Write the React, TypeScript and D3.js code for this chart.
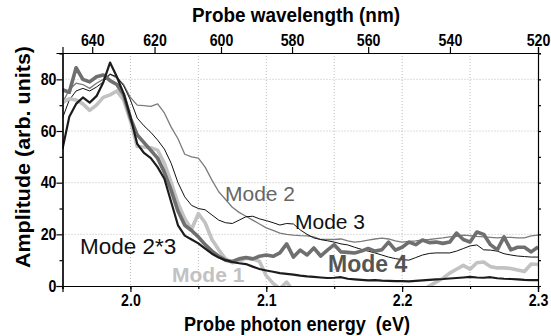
import React, { useEffect, useRef } from "react";
import * as d3 from "d3";

// energy grid (eV), step 0.005
const energy = d3.range(71).map((i) => +(1.95 + i * 0.005).toFixed(3));

const mode1 = [
  71, 72.5, 72, 70.5, 68, 70, 73, 74, 75.5, 72, 64, 54, 53.8, 53.5, 52.6, 47.5, 40, 32, 26, 22,
  28, 24.5, 18, 14, 10.5, 9, 9.5, 10.8, 10.5, 9.5, 4, 1, -1, 1.5, -2, -4, -6, -7, -8, -7,
  -8, -9, -8, -9, -8, -7, -8, -7, -6, -6, -5, -4, -3, -1.5, 0, 1.5, 3, 5, 6.5, 8,
  6.5, 9, 9.3, 7.5, 7, 7, 6.8, 6.2, 5.6, 8.5, 8.3,
];
const mode2 = [
  71, 76, 78.5, 78, 76.5, 78.5, 80, 82, 80.5, 78, 73, 70, 69.8, 69.5, 70.5, 67, 61.5, 57, 51, 50,
  49.5, 46, 41, 36.5, 33.5, 30.5, 28.5, 27, 25.5, 24, 22.5, 21.5, 20.5, 20, 19.7, 19.5, 19.4, 19, 18, 18,
  18, 18.2, 17.5, 17, 17.3, 17.8, 18.2, 18.5, 18.2, 17.5, 17, 17.3, 17.5, 17.8, 18, 18.3, 18.6, 19, 19.2, 19.7,
  19.5, 19.2, 19, 18.8, 18.6, 18.8, 18.8, 18.6, 18.6, 19.4, 19.7,
];
const mode3 = [
  65, 72, 75.5, 76.5, 75.5, 77, 79, 82, 81, 77.5, 72, 65, 62, 59.5, 56.5, 53, 47.5, 40, 34.5, 31.2,
  30, 29.5, 27.5, 25.5, 24.5, 24.2, 25.5, 26.8, 27, 26, 25.3, 24.5, 23.6, 24.2, 24, 21.7, 20, 18.6, 18, 17.5,
  17, 16.3, 15.9, 15, 14.2, 13.5, 12.8, 12, 11.2, 10.6, 10.2, 10, 11, 12, 12.6, 12.8, 12.8, 12.8, 13.5, 14.5,
  15.5, 15.9, 14, 13.9, 13.5, 12.5, 12, 11.6, 11.4, 11.2, 11.2,
];
const mode4 = [
  76, 75, 84.5, 80, 79, 81, 81.7, 79.5, 78, 74, 65, 58.5, 55.5, 52.5, 49.5, 44, 37, 29, 23.5, 21.5,
  19, 16, 13.5, 11.5, 10, 9.5, 10.5, 11, 10.5, 11.5, 12, 11.5, 12.8, 16.3, 11.2, 13.9, 12, 14.7, 11.6, 13.9,
  16, 13.2, 13, 12.8, 13.5, 14.5, 13.5, 14, 17, 13.9, 15, 17, 16, 17.8, 16.8, 17, 16.5, 17, 20.5, 18,
  17, 20.9, 20, 16, 14, 19, 14, 15, 15, 13.2, 15.1,
];
const mode23 = [
  53, 65.5, 70.5, 73, 71, 73.5, 78.8, 86.5, 81, 74.5, 65.5, 55, 51.5, 49.5, 46, 41.5, 32.5, 23.5, 19.5, 18,
  16.5, 14.5, 12.5, 11, 10, 9.3, 8.8, 8.5, 7.5, 6.6, 6, 5.5, 5, 4.7, 4.4, 4, 3.7, 3.5, 3.3, 3.1,
  3.2, 3.4, 2.8, 2.6, 2.4, 2.2, 2.3, 2.1, 2, 1.9, 1.9, 1.8, 2, 2.2, 2.4, 2.6, 2.7, 2.9, 3.1, 3.3,
  3.5, 3.3, 3.2, 3.4, 3, 2.8, 2.7, 2.6, 2.4, 2.3, 2.3,
];

const wavelengthTicks = [640, 620, 600, 580, 560, 540, 520];
const energyTicks = [2.0, 2.1, 2.2, 2.3];
const amplitudeTicks = [0, 20, 40, 60, 80];

const series = [
  { name: "Mode 2", values: mode2, color: "#7b7b7b", width: 1.3 },
  { name: "Mode 3", values: mode3, color: "#111111", width: 1 },
  { name: "Mode 1", values: mode1, color: "#c2c2c2", width: 3.6 },
  { name: "Mode 4", values: mode4, color: "#6f6f6f", width: 3.6 },
  { name: "Mode 2*3", values: mode23, color: "#1c1c1c", width: 2.2 },
];

const labels = [
  { text: "Mode 2", x: 225, y: 201, size: 21, weight: "normal", color: "#666666" },
  { text: "Mode 3", x: 295, y: 229, size: 21, weight: "normal", color: "#111111" },
  { text: "Mode 2*3", x: 80, y: 254, size: 22.5, weight: "normal", color: "#111111" },
  { text: "Mode 1", x: 172, y: 282, size: 21, weight: "bold", color: "#c2c2c2" },
  { text: "Mode 4", x: 328, y: 272, size: 23, weight: "bold", color: "#555555" },
];

const W = 551;
const H = 336;
const M = { top: 53, right: 13, bottom: 50, left: 62.5 };
const FONT = "'Liberation Sans', Arial, sans-serif";

export default function App() {
  const ref = useRef<SVGSVGElement>(null);

  useEffect(() => {
    if (!ref.current) return;
    const svg = d3.select(ref.current);
    svg.selectAll("*").remove();

    const x = d3.scaleLinear().domain([1.95, 2.3]).range([M.left, W - M.right]);
    const y = d3.scaleLinear().domain([0, 90.2]).range([H - M.bottom, M.top]);
    const xTop = d3
      .scaleLinear()
      .domain([1 / 650, 1 / 520])
      .range([M.left, W - M.right]);

    svg
      .append("defs")
      .append("clipPath")
      .attr("id", "plot-clip")
      .append("rect")
      .attr("x", M.left)
      .attr("y", M.top)
      .attr("width", W - M.left - M.right)
      .attr("height", H - M.top - M.bottom);

    // grid
    const grid = svg.append("g").attr("stroke", "#bdbdbd").attr("stroke-dasharray", "1,2");
    grid
      .selectAll("line.v")
      .data(d3.range(2.0, 2.26, 0.05))
      .enter()
      .append("line")
      .attr("x1", (d) => x(d))
      .attr("x2", (d) => x(d))
      .attr("y1", M.top)
      .attr("y2", H - M.bottom);
    grid
      .selectAll("line.h")
      .data([20, 40, 60, 80])
      .enter()
      .append("line")
      .attr("x1", M.left)
      .attr("x2", W - M.right)
      .attr("y1", (d) => y(d))
      .attr("y2", (d) => y(d));

    // lines
    const line = d3
      .line<number>()
      .x((d, i) => x(energy[i]))
      .y((d) => y(d));

    const lines = svg.append("g").attr("clip-path", "url(#plot-clip)");
    series.forEach((s) => {
      lines
        .append("path")
        .attr("d", line(s.values))
        .attr("fill", "none")
        .attr("stroke", s.color)
        .attr("stroke-width", s.width)
        .attr("stroke-linejoin", "round");
    });

    // axes
    const styleAxis = (g) => {
      g.select(".domain").attr("stroke", "#000").attr("stroke-width", 1.2);
      g.selectAll(".tick line").attr("stroke", "#000").attr("stroke-width", 1.2);
      g.selectAll(".tick text")
        .attr("font-family", FONT)
        .attr("font-weight", "bold")
        .attr("font-size", 16.5)
        .attr("fill", "#000")
        .attr("transform", "scale(0.86,1)");
    };

    svg
      .append("g")
      .attr("transform", `translate(0,${H - M.bottom})`)
      .call(d3.axisBottom(x).tickValues(d3.range(1.95, 2.31, 0.05)).tickSize(3).tickFormat(() => ""))
      .call(styleAxis);
    svg
      .append("g")
      .attr("transform", `translate(0,${H - M.bottom})`)
      .call(
        d3
          .axisBottom(x)
          .tickValues(energyTicks)
          .tickSize(6)
          .tickPadding(2)
          .tickFormat(d3.format(".1f"))
      )
      .call(styleAxis);

    svg
      .append("g")
      .attr("transform", `translate(0,${M.top})`)
      .call(
        d3
          .axisTop(xTop)
          .tickValues(wavelengthTicks.map((w) => 1 / w))
          .tickSize(6)
          .tickPadding(1)
          .tickFormat((d) => String(Math.round(1 / d)))
      )
      .call(styleAxis);

    svg
      .append("g")
      .attr("transform", `translate(${M.left},0)`)
      .call(d3.axisLeft(y).tickValues([10, 30, 50, 70, 90]).tickSize(3).tickFormat(() => ""))
      .call(styleAxis);
    svg
      .append("g")
      .attr("transform", `translate(${M.left},0)`)
      .call(d3.axisLeft(y).tickValues(amplitudeTicks).tickSize(6).tickPadding(1))
      .call(styleAxis);

    svg
      .append("g")
      .attr("transform", `translate(${W - M.right},0)`)
      .call(d3.axisLeft(y).tickValues([10, 20, 30, 40, 50, 60, 70, 80, 90]).tickSize(-3).tickFormat(() => ""))
      .call(styleAxis);

    // titles
    const title = (text, tx, ty, len, rot = 0) =>
      svg
        .append("text")
        .attr("transform", `translate(${tx},${ty}) rotate(${rot})`)
        .attr("text-anchor", "middle")
        .attr("font-family", FONT)
        .attr("font-weight", "bold")
        .attr("font-size", 20.5)
        .attr("textLength", len)
        .attr("lengthAdjust", "spacingAndGlyphs")
        .style("white-space", "pre")
        .text(text);

    title("Probe wavelength (nm)", 296, 22, 208);
    title("Probe photon energy  (eV)", 297, 331, 226);
    title("Amplitude (arb. units)", 30, 157, 222, -90);

    // series labels
    svg
      .append("g")
      .selectAll("text")
      .data(labels)
      .enter()
      .append("text")
      .attr("x", (d) => d.x)
      .attr("y", (d) => d.y)
      .attr("font-family", FONT)
      .attr("font-size", (d) => d.size)
      .attr("font-weight", (d) => d.weight)
      .attr("fill", (d) => d.color)
      .text((d) => d.text);
  }, []);

  return (
    <svg
      ref={ref}
      width={W}
      height={H}
      style={{ position: "absolute", left: 0, top: 0, background: "#fff" }}
    />
  );
}
